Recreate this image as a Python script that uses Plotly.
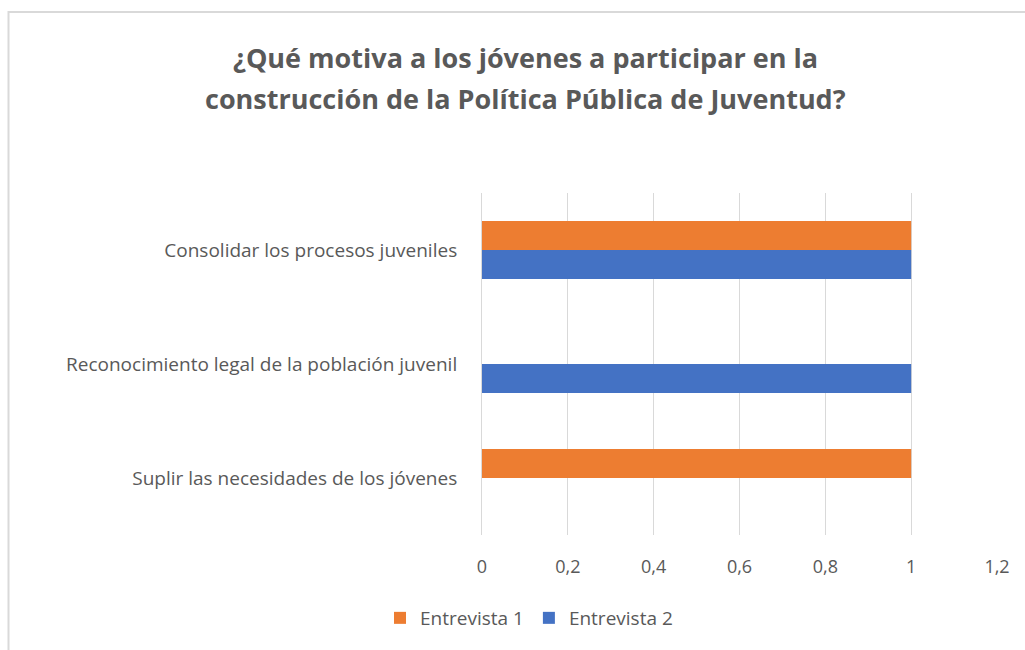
import plotly.graph_objects as go

categories = ["Suplir las necesidades de los jóvenes",
              "Reconocimiento legal de la población juvenil",
              "Consolidar los procesos juveniles"]
entrevista1 = [1, 0, 1]
entrevista2 = [0, 1, 1]
series_names = ["Entrevista 1", "Entrevista 2"]
x_ticks = [0, 0.2, 0.4, 0.6, 0.8, 1, 1.2]
title_lines = ["¿Qué motiva a los jóvenes a participar en la",
               "construcción de la Política Pública de Juventud?"]

W, H = 1025, 650
L, R, T, B = 482, 997, 193, 535

fig = go.Figure()
fig.add_trace(go.Bar(y=categories, x=entrevista2, name=series_names[1], orientation="h",
                     marker=dict(color="#4472C4", line=dict(width=0))))
fig.add_trace(go.Bar(y=categories, x=entrevista1, name=series_names[0], orientation="h",
                     marker=dict(color="#ED7D31", line=dict(width=0))))


def px_x(p):
    return (p - L) / (R - L)


def px_y(p):
    return (B - p) / (B - T)


# chart frame: only the top and left edges are visible in the reference
fig.add_shape(type="line", xref="paper", yref="paper",
              x0=px_x(8.5), x1=px_x(1040), y0=px_y(12), y1=px_y(12),
              line=dict(color="#d9d9d9", width=2), layer="below")
fig.add_shape(type="line", xref="paper", yref="paper",
              x0=px_x(8.5), x1=px_x(8.5), y0=px_y(11), y1=px_y(660),
              line=dict(color="#d9d9d9", width=2), layer="below")

for line, yc in zip(title_lines, [57, 98]):
    fig.add_annotation(text=line, xref="paper", yref="paper",
                       x=px_x(525), y=px_y(yc), xanchor="center", yanchor="middle",
                       showarrow=False,
                       font=dict(family="Open Sans", size=27, color="#595959", weight="bold"))

fig.update_layout(
    width=W, height=H,
    margin=dict(l=L, r=W - R, t=T, b=H - B),
    paper_bgcolor="white", plot_bgcolor="white",
    barmode="group", bargap=0.49, bargroupgap=0,
    separators=", ",
    font=dict(family="Open Sans", color="#595959"),
    xaxis=dict(range=[0, 1.2], tickvals=x_ticks, tickformat=".1~f",
               showgrid=True, gridcolor="#d9d9d9", gridwidth=1,
               zeroline=False, showline=False, ticks="",
               ticklabelstandoff=19,
               tickfont=dict(size=18, color="#595959")),
    yaxis=dict(showgrid=False, zeroline=False, showline=True,
               linecolor="#d9d9d9", linewidth=1, ticks="",
               ticklabelstandoff=20,
               tickfont=dict(size=19, color="#595959")),
    legend=dict(orientation="h", traceorder="reversed",
                xref="container", yref="container",
                x=529 / W, xanchor="center", y=1 - 618 / H, yanchor="middle",
                font=dict(size=19, color="#595959")),
    showlegend=True,
)

fig.write_html("out.html", config={"displayModeBar": False},
               post_script="document.body.style.margin='0';document.body.style.overflow='hidden';")
